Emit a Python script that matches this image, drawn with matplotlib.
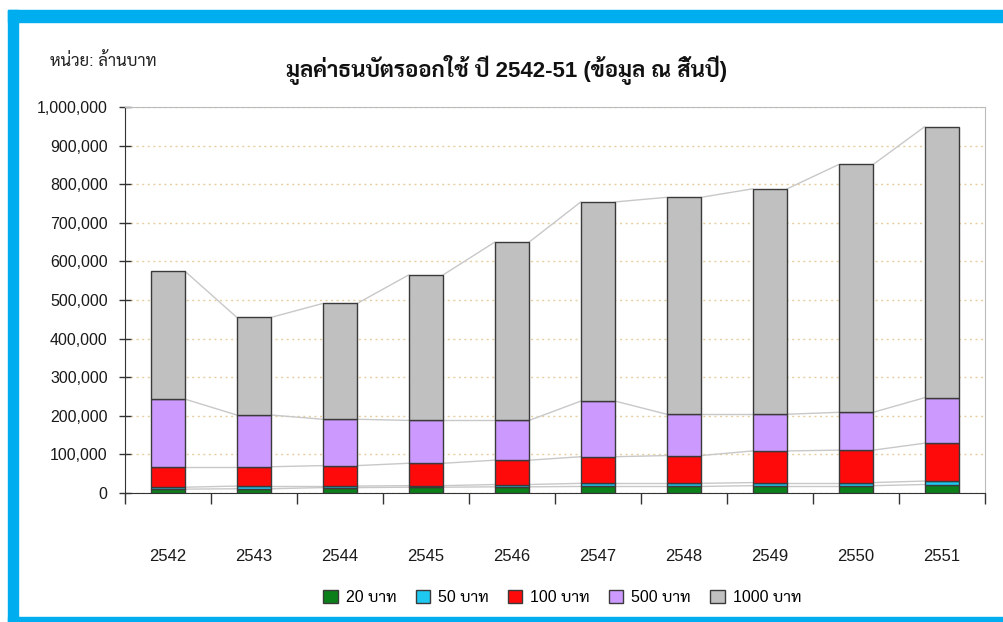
import matplotlib
matplotlib.use('Agg')
import matplotlib.pyplot as plt
from matplotlib import font_manager
from matplotlib.ft2font import FT2Font
from matplotlib.patches import Rectangle
import numpy as np

# values in million baht
years = ['2542', '2543', '2544', '2545', '2546', '2547', '2548', '2549', '2550', '2551']
note_20 = [10000, 11000, 14000, 15000, 16000, 17000, 17000, 19000, 19000, 22000]
note_50 = [5000, 7000, 4000, 4000, 6000, 8000, 8000, 8000, 8000, 9000]
note_100 = [53000, 50000, 53000, 58000, 63000, 69000, 72000, 82000, 84000, 98000]
note_500 = [175000, 134000, 120000, 111000, 103000, 144000, 107000, 95000, 98000, 118000]
note_1000 = [331000, 253000, 300000, 377000, 462000, 516000, 562000, 584000, 642000, 702000]
series_names = ['20 บาท', '50 บาท', '100 บาท', '500 บาท', '1000 บาท']
series_colors = ['#0a7f1a', '#1ec8f0', '#ff0a0a', '#cc99ff', '#c0c0c0']
y_ticks = list(range(0, 1000001, 100000))

# pick an installed font that has Thai glyphs (one with a bold face if possible)
thai_fams = {}
for f in font_manager.fontManager.ttflist:
    try:
        if ord('ม') in FT2Font(f.fname).get_charmap():
            w = f.weight if isinstance(f.weight, int) else 400
            thai_fams.setdefault(f.name, set()).add(w)
    except Exception:
        pass
wanted = ['Noto Sans Thai', 'Sarabun', 'IBM Plex Sans Thai', 'Kanit', 'Loma']
thai = next(iter(thai_fams), 'DejaVu Sans')
for name in wanted:
    if name in thai_fams and max(thai_fams[name]) >= 600:
        thai = name
        break
else:
    for name in wanted:
        if name in thai_fams:
            thai = name
            break
plt.rcParams['font.family'] = ['Liberation Sans', thai, 'DejaVu Sans']

fig = plt.figure(figsize=(10.04, 6.22), dpi=100)
ax = fig.add_axes([0.1245, 0.2074, 0.8565, 0.6206])

x = np.arange(len(years))
width = 0.4
series = [note_20, note_50, note_100, note_500, note_1000]
bottom = np.zeros(len(years))
tops = []
for vals, name, col in zip(series, series_names, series_colors):
    ax.bar(x, vals, width, bottom=bottom, color=col, edgecolor='#3a3a3a',
           linewidth=1, label=name, zorder=3)
    bottom = bottom + np.array(vals)
    tops.append(bottom.copy())

# series lines between bars
for lvl in tops:
    for i in range(len(years) - 1):
        ax.plot([x[i] + width / 2, x[i + 1] - width / 2], [lvl[i], lvl[i + 1]],
                color='#c8c8c8', lw=1, zorder=2)

ax.set_xlim(-0.5, len(years) - 0.5)
ax.set_ylim(0, 1000000)
ax.set_yticks(y_ticks)
ax.set_yticklabels(['{:,}'.format(v) for v in y_ticks], fontsize=11.5, color='#1a1a1a')
ax.yaxis.grid(True, linestyle=(0, (1.5, 2.5)), color='#e6cfa0', lw=1, zorder=0)
ax.tick_params(axis='y', direction='inout', length=9, width=1, color='#333333', pad=8)

ax.set_xticks(x)
ax.set_xticklabels(years, fontsize=12, color='#1a1a1a')
ax.tick_params(axis='x', length=0, pad=40)
ax.set_xticks(np.arange(-0.5, len(years)), minor=True)
ax.tick_params(axis='x', which='minor', direction='out', length=8, width=1, color='#333333')

for side in ['top', 'right']:
    ax.spines[side].set_color('#bbbbbb')
for side in ['left', 'bottom']:
    ax.spines[side].set_color('#333333')

fig.text(0.505, 0.888, 'มูลค่าธนบัตรออกใช้ ปี 2542-51 (ข้อมูล ณ สิ้นปี)', ha='center', va='center',
         fontsize=16, fontweight='bold', color='#111111')
fig.text(0.05, 0.903, 'หน่วย: ล้านบาท', ha='left', va='center', fontsize=12, color='#222222')

fig.legend(loc='center', bbox_to_anchor=(0.56, 0.04), ncol=5, frameon=False, fontsize=11.5,
           handlelength=0.9, handleheight=0.9, handletextpad=0.5, columnspacing=1.2)

# blue frame
blue = '#00aeef'
fig.patches.append(Rectangle((8 / 1004, 1 - 22 / 622), 1, 12 / 622, transform=fig.transFigure,
                             color=blue, zorder=0))
fig.patches.append(Rectangle((8 / 1004, 0), 10 / 1004, 1 - 10 / 622, transform=fig.transFigure,
                             color=blue, zorder=0))
fig.patches.append(Rectangle((8 / 1004, 0), 1, 5 / 622, transform=fig.transFigure,
                             color=blue, zorder=0))

fig.savefig('out.png', dpi=100)
